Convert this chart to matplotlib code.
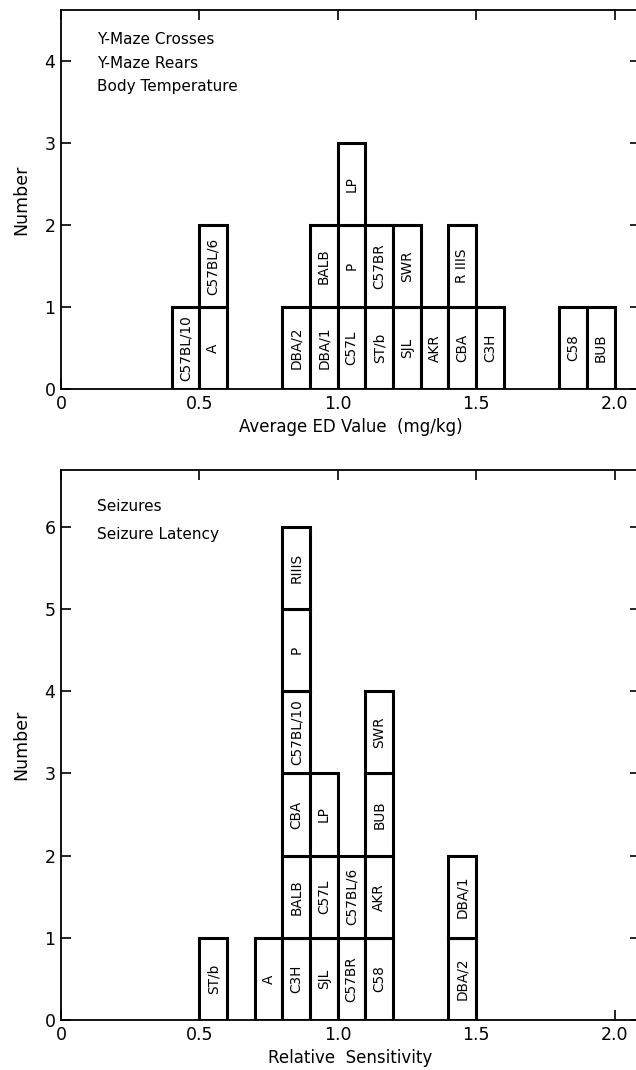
import numpy as np
import matplotlib.pyplot as plt

# Strains and their ED / sensitivity values (bin width 0.1, stacked in listed order)
ed_strains = ['C57BL/10', 'A', 'C57BL/6', 'DBA/2', 'DBA/1', 'BALB', 'C57L', 'P', 'LP',
              'ST/b', 'C57BR', 'SJL', 'SWR', 'AKR', 'CBA', 'R IIIS', 'C3H', 'C58', 'BUB']
ed_values = [0.45, 0.55, 0.55, 0.85, 0.95, 0.95, 1.05, 1.05, 1.05,
             1.15, 1.15, 1.25, 1.25, 1.35, 1.45, 1.45, 1.55, 1.85, 1.95]
ed_notes = ['Y-Maze Crosses', 'Y-Maze Rears', 'Body Temperature']

sens_strains = ['ST/b', 'A', 'C3H', 'BALB', 'CBA', 'C57BL/10', 'P', 'RIIIS',
                'SJL', 'C57L', 'LP', 'C57BR', 'C57BL/6', 'C58', 'AKR', 'BUB', 'SWR',
                'DBA/2', 'DBA/1']
sens_values = [0.55, 0.75, 0.85, 0.85, 0.85, 0.85, 0.85, 0.85,
               0.95, 0.95, 0.95, 1.05, 1.05, 1.15, 1.15, 1.15, 1.15,
               1.45, 1.45]
sens_notes = ['Seizures', 'Seizure Latency']

xticks = [0, 0.5, 1.0, 1.5, 2.0]
xtick_labels = ['0', '0.5', '1.0', '1.5', '2.0']
bin_width = 0.1

W, H = 636, 1070
fig = plt.figure(figsize=(W / 100, H / 100), dpi=100)


def stacked_hist(ax, strains, values, ymax, yticks, xlabel, notes, note_y):
    counts = {}
    for name, v in zip(strains, values):
        b = int(np.floor(v / bin_width + 1e-9))
        level = counts.get(b, 0)
        counts[b] = level + 1
        left = b * bin_width
        ax.bar(left, 1, width=bin_width, bottom=level, align='edge',
               facecolor='white', edgecolor='black', linewidth=2.2, zorder=3)
        ax.text(left + bin_width / 2, level + 0.5, name, rotation=90,
                ha='center', va='center', fontsize=9.8, zorder=4)

    ax.set_xlim(0, 2.092)
    ax.set_ylim(0, ymax)
    ax.set_xticks(xticks)
    ax.set_xticklabels(xtick_labels)
    ax.set_yticks(yticks)
    ax.tick_params(direction='in', length=7, width=1.2, labelsize=12.5,
                   top=True, right=True, pad=4)
    ax.spines['right'].set_visible(False)
    for s in ['left', 'bottom', 'top']:
        ax.spines[s].set_linewidth(1.3)
    ax.set_xlabel(xlabel, fontsize=12, labelpad=4)
    ax.set_ylabel('Number', fontsize=12.5, labelpad=10)
    for txt, y in zip(notes, note_y):
        ax.text(0.062, y, txt, transform=ax.transAxes, ha='left', va='center',
                fontsize=11)


# Upper panel: average ED values
ax1 = fig.add_axes([61 / W, 1 - 389 / H, (640 - 61) / W, (389 - 10) / H])
stacked_hist(ax1, ed_strains, ed_values, 4.62, range(0, 5),
             'Average ED Value  (mg/kg)', ed_notes, [0.921, 0.860, 0.797])

# Lower panel: relative sensitivity
ax2 = fig.add_axes([61 / W, 1 - 1020 / H, (640 - 61) / W, (1020 - 470) / H])
stacked_hist(ax2, sens_strains, sens_values, 6.69, range(0, 7),
             'Relative  Sensitivity', sens_notes, [0.933, 0.882])

fig.savefig('out.png', dpi=100)
